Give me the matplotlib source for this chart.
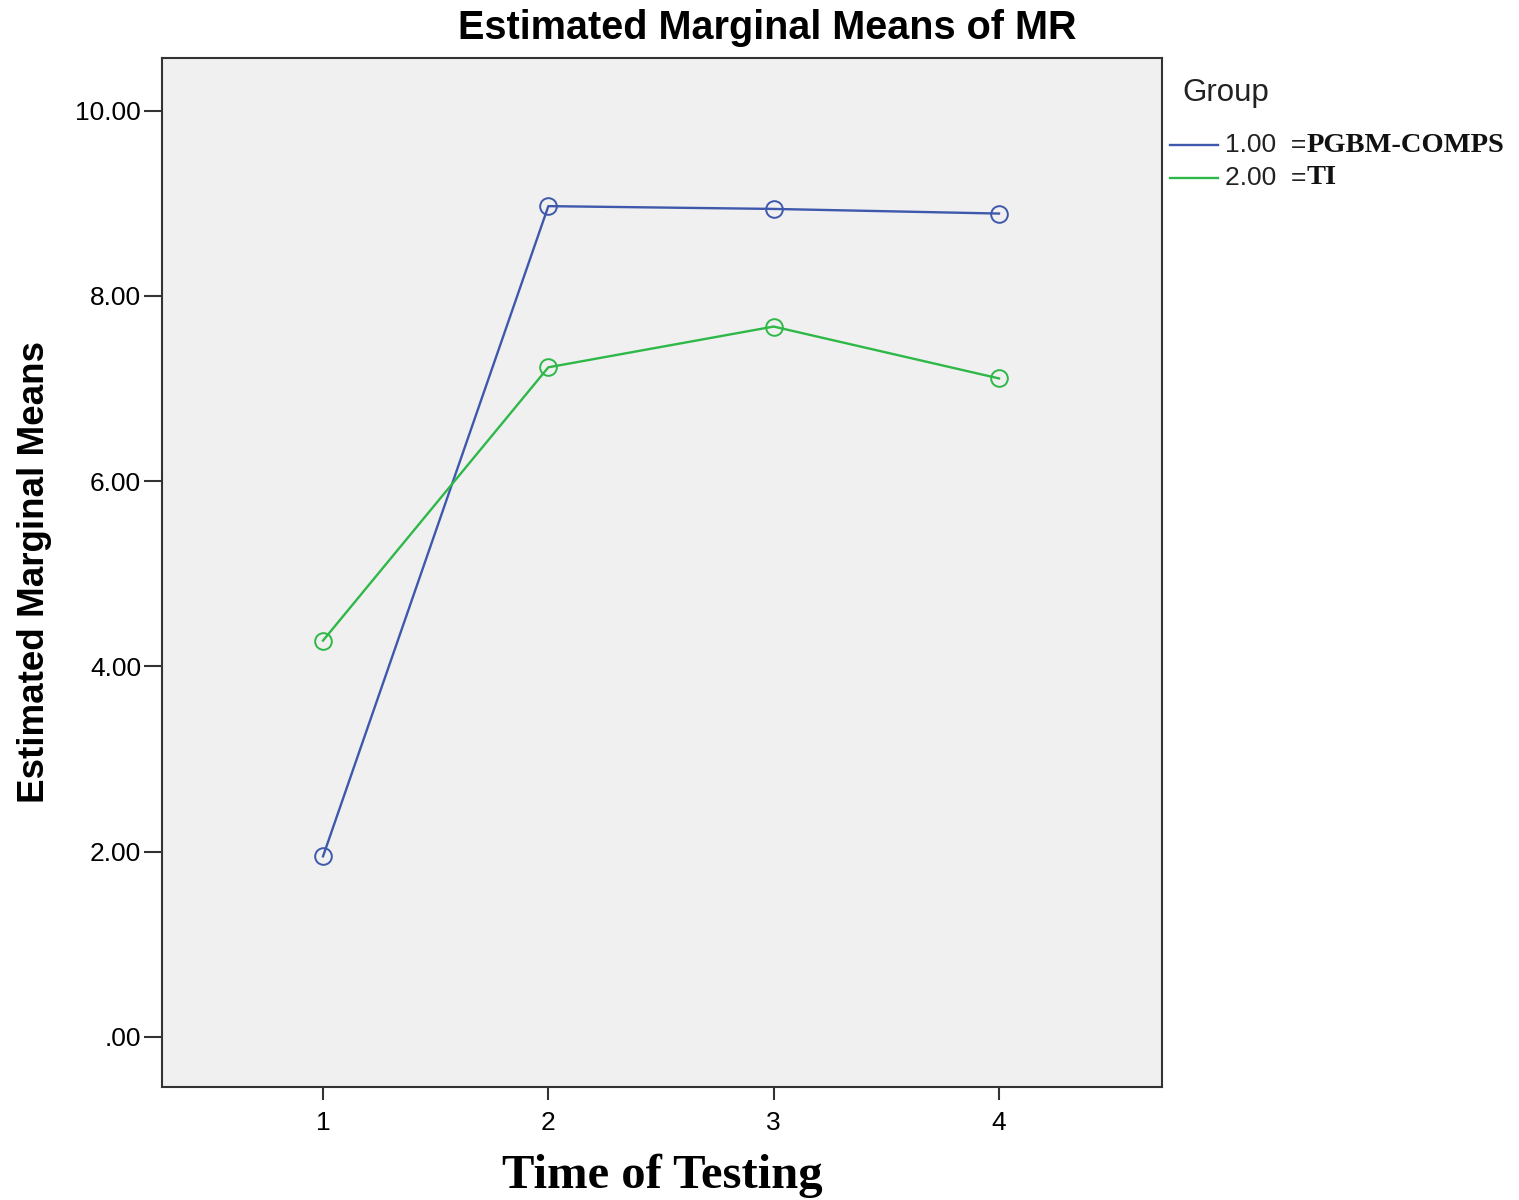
import matplotlib
matplotlib.use("Agg")
import matplotlib.pyplot as plt
from matplotlib.lines import Line2D

# data
times = [1, 2, 3, 4]
pgbm_comps = [1.95, 8.97, 8.94, 8.89]
ti = [4.28, 7.23, 7.67, 7.11]
y_ticks = [0, 2, 4, 6, 8, 10]
y_tick_labels = [".00", "2.00", "4.00", "6.00", "8.00", "10.00"]
group_codes = ["1.00  =", "2.00  ="]
group_names = ["PGBM-COMPS", "TI"]

blue = "#3e58ac"
green = "#2eb848"
sans = "Liberation Sans"
serif = "Liberation Serif"

fig = plt.figure(figsize=(15.19, 12), dpi=100)
ax = fig.add_axes([0.1066, 0.0942, 0.6583, 0.8575])
ax.set_facecolor("#f0f0f0")

ax.plot(times, pgbm_comps, color=blue, lw=1.7, marker="o", ms=12,
        mfc="none", mec=blue, mew=1.4)
ax.plot(times, ti, color=green, lw=1.7, marker="o", ms=12,
        mfc="none", mec=green, mew=1.4)

ax.set_xlim(0.285, 4.723)
ax.set_ylim(-0.54, 10.57)
ax.set_xticks(times)
ax.set_xticklabels([str(t) for t in times], fontfamily=sans, fontsize=19)
ax.set_yticks(y_ticks)
ax.set_yticklabels(y_tick_labels, fontfamily=sans, fontsize=19)
ax.tick_params(axis="y", length=13, width=1.5, color="#333333", pad=2)
ax.tick_params(axis="x", length=9, width=1.5, color="#333333", pad=8)
for s in ax.spines.values():
    s.set_color("#333333")
    s.set_linewidth(1.5)

# SPSS centres the title on the whole chart, not the plot frame
fig.suptitle("Estimated Marginal Means of MR", x=767 / 1519, y=1 - 28 / 1200,
             va="center", fontfamily=sans, fontweight="bold", fontsize=28.5)
ax.set_ylabel("Estimated Marginal Means", fontfamily=sans,
              fontweight="bold", fontsize=26.5, labelpad=17)
ax.set_xlabel("Time of Testing", fontfamily=serif, fontweight="bold",
              fontsize=35, labelpad=14)

# legend drawn by hand, SPSS style with mixed fonts
fig.text(1182 / 1519, 1 - 93 / 1200, "Group", fontfamily=sans, fontsize=22.5,
         va="center", ha="left", color="#222222")
leg_y = [1 - 145 / 1200, 1 - 178 / 1200]
for code, name, col, yy in zip(group_codes, group_names, [blue, green], leg_y):
    fig.add_artist(Line2D([1170 / 1519, 1218 / 1519], [yy, yy], color=col,
                          lw=1.7, transform=fig.transFigure))
    t = fig.text(1225 / 1519, yy, code, fontfamily=sans, fontsize=19,
                 va="center", ha="left", color="#222222")
    ax.annotate(name, xy=(1, 0.5), xycoords=t, va="center", ha="left",
                fontfamily=serif, fontweight="bold", fontsize=20.5,
                color="#111111")

fig.savefig("out.png", dpi=100)
